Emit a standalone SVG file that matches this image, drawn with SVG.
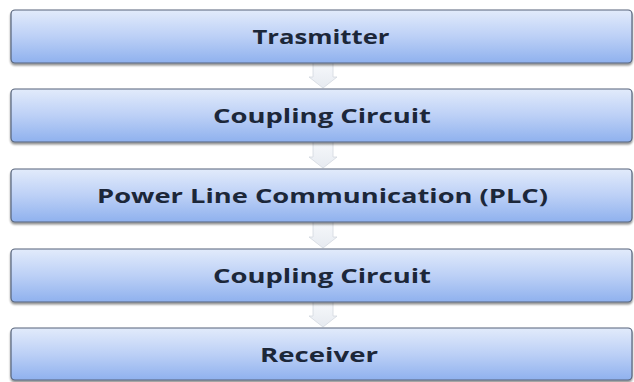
<svg xmlns="http://www.w3.org/2000/svg" width="634" height="382" viewBox="0 0 634 382">
<defs>
<linearGradient id="boxg" x1="0" y1="0" x2="0" y2="1">
<stop offset="0" stop-color="#e2ebfb"/>
<stop offset="0.5" stop-color="#bcd0f6"/>
<stop offset="1" stop-color="#8fb1ee"/>
</linearGradient>
<linearGradient id="arrg" x1="0" y1="0" x2="0" y2="1">
<stop offset="0" stop-color="#f7f9fc"/>
<stop offset="1" stop-color="#e6eaf0"/>
</linearGradient>
<filter id="sh" x="-5%" y="-20%" width="110%" height="150%">
<feGaussianBlur in="SourceAlpha" stdDeviation="1.2"/>
<feOffset dx="0" dy="1.5" result="b"/>
<feComponentTransfer><feFuncA type="linear" slope="0.45"/></feComponentTransfer>
<feMerge><feMergeNode/><feMergeNode in="SourceGraphic"/></feMerge>
</filter>
</defs>
<style>
.box{fill:url(#boxg);stroke:#56637a;stroke-width:1.2;filter:url(#sh)}
.lbl{font-family:"Open Sans","Liberation Sans",sans-serif;font-weight:bold;font-size:19px;fill:#1c2739;text-anchor:middle;font-variant-ligatures:none}
.arr{fill:url(#arrg);stroke:#d3d8df;stroke-width:0.8}
</style>
<rect width="634" height="382" fill="#ffffff"/>
<g id="connectors">
<path class="arr" d="M313,62 H333 V77 H337 L323,88 L309,77 H313 Z"/>
<path class="arr" d="M313,141 H333 V157 H337 L323,168 L309,157 H313 Z"/>
<path class="arr" d="M313,221 H333 V237 H337 L323,248 L309,237 H313 Z"/>
<path class="arr" d="M313,301 H333 V316 H337 L323,327 L309,316 H313 Z"/>
</g>
<g id="n1"><rect class="box" x="11" y="10" width="621" height="53" rx="4"/><text class="lbl" x="321" y="43.5" textLength="137" lengthAdjust="spacingAndGlyphs">Trasmitter</text></g>
<g id="n2"><rect class="box" x="11" y="89" width="621" height="53" rx="4"/><text class="lbl" x="322" y="122.5" textLength="218" lengthAdjust="spacingAndGlyphs">Coupling Circuit</text></g>
<g id="n3"><rect class="box" x="11" y="169" width="621" height="53" rx="4"/><text class="lbl" x="322.5" y="202.5" textLength="451" lengthAdjust="spacingAndGlyphs">Power Line Communication (PLC)</text></g>
<g id="n4"><rect class="box" x="11" y="249" width="621" height="53" rx="4"/><text class="lbl" x="322" y="282.5" textLength="218" lengthAdjust="spacingAndGlyphs">Coupling Circuit</text></g>
<g id="n5"><rect class="box" x="11" y="328" width="621" height="52" rx="4"/><text class="lbl" x="319" y="361.5" textLength="118" lengthAdjust="spacingAndGlyphs">Receiver</text></g>
</svg>
